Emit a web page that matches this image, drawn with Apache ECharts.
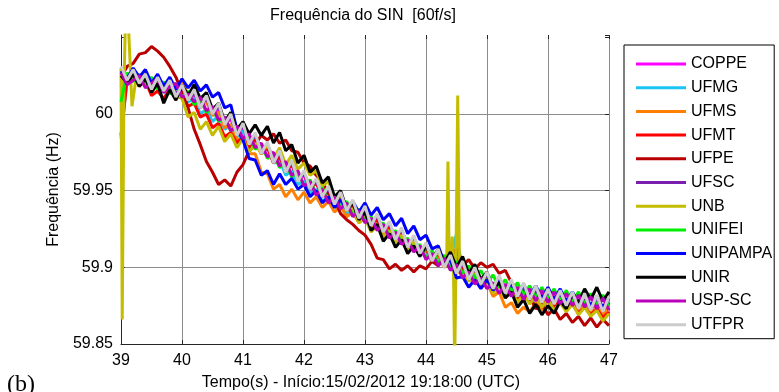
<!DOCTYPE html>
<html><head><meta charset="utf-8">
<script src="https://cdn.jsdelivr.net/npm/echarts@6/dist/echarts.min.js"></script>
<style>html,body{margin:0;padding:0;background:#fff}#c{width:779px;height:392px}</style>
</head><body><div id="c"></div>
<script>
// shared sample times (s)
const time = [39.0,39.1,39.2,39.3,39.4,39.5,39.6,39.7,39.8,39.9,
40.0,40.1,40.2,40.3,40.4,40.5,40.6,40.7,40.8,40.9,
41.0,41.1,41.2,41.3,41.4,41.5,41.6,41.7,41.8,41.9,
42.0,42.1,42.2,42.3,42.4,42.5,42.6,42.7,42.8,42.9,
43.0,43.1,43.2,43.3,43.4,43.5,43.6,43.7,43.8,43.9,
44.0,44.1,44.2,44.3,44.4,44.5,44.6,44.7,44.8,44.9,
45.0,45.1,45.2,45.3,45.4,45.5,45.6,45.7,45.8,45.9,
46.0,46.1,46.2,46.3,46.4,46.5,46.6,46.7,46.8,46.9,47.0];

const names = ['COPPE','UFMG','UFMS','UFMT','UFPE','UFSC','UNB','UNIFEI','UNIPAMPA','UNIR','USP-SC','UTFPR'];
const colors = ['#ff00ff','#1cc4f4','#ff8000','#ff0000','#b80000','#7a1fb0','#c4bc00','#00ee00','#0000ff','#000000','#bb00bb','#cccccc'];

const coppe = [60.026,60.021,60.027,60.019,60.024,60.017,60.022,60.014,60.020,60.012,
60.017,60.008,60.013,60.004,60.009,59.999,60.003,59.993,59.997,59.986,
59.991,59.980,59.985,59.974,59.979,59.968,59.973,59.962,59.967,59.957,
59.960,59.951,59.955,59.946,59.950,59.942,59.946,59.938,59.941,59.933,
59.937,59.928,59.932,59.924,59.927,59.919,59.923,59.914,59.918,59.910,
59.913,59.905,59.909,59.901,59.905,59.897,59.901,59.893,59.897,59.890,
59.894,59.887,59.891,59.884,59.888,59.881,59.885,59.879,59.883,59.877,
59.881,59.876,59.880,59.875,59.879,59.873,59.878,59.872,59.877,59.871,59.876];

const ufmg = [59.984,60.024,60.027,60.021,60.024,60.017,60.021,60.014,60.019,60.012,
60.016,60.008,60.010,60.000,60.003,59.995,59.999,59.990,59.993,59.985,
59.989,59.980,59.985,59.975,59.979,59.968,59.970,59.960,59.963,59.954,
59.956,59.948,59.951,59.943,59.946,59.939,59.942,59.935,59.938,59.931,
59.934,59.926,59.929,59.922,59.925,59.917,59.921,59.912,59.916,59.908,
59.911,59.903,59.907,59.900,59.905,59.922,59.897,59.891,59.895,59.888,
59.892,59.885,59.890,59.882,59.887,59.879,59.885,59.877,59.886,59.876,
59.883,59.875,59.882,59.874,59.881,59.872,59.879,59.871,59.878,59.870,59.877];

const ufms = [60.028,60.024,60.029,60.022,60.027,60.020,60.025,60.018,60.023,60.017,
60.022,60.012,60.015,60.005,60.008,59.999,60.001,59.991,59.993,59.983,
59.985,59.974,59.974,59.962,59.961,59.951,59.954,59.946,59.951,59.944,
59.949,59.942,59.946,59.939,59.943,59.936,59.940,59.933,59.936,59.929,
59.933,59.925,59.929,59.922,59.925,59.918,59.922,59.913,59.917,59.909,
59.912,59.904,59.908,59.900,59.904,59.896,59.900,59.891,59.895,59.887,
59.890,59.881,59.884,59.874,59.877,59.870,59.874,59.871,59.877,59.872,
59.879,59.873,59.880,59.873,59.879,59.872,59.878,59.871,59.877,59.869,59.875];

const ufmt = [59.986,60.022,60.026,60.018,60.022,60.012,60.015,60.010,60.016,60.010,
60.014,60.005,60.007,59.998,60.000,59.991,59.994,59.985,59.988,59.981,
59.985,59.978,59.983,59.974,59.978,59.968,59.972,59.963,59.967,59.958,
59.961,59.952,59.955,59.947,59.950,59.942,59.945,59.938,59.940,59.933,
59.936,59.928,59.931,59.924,59.926,59.919,59.922,59.914,59.917,59.910,
59.912,59.905,59.909,59.902,59.906,59.912,59.899,59.893,59.897,59.890,
59.894,59.887,59.890,59.884,59.887,59.880,59.884,59.878,59.882,59.876,
59.880,59.874,59.878,59.872,59.876,59.870,59.874,59.869,59.873,59.867,59.871];

const ufpe = [60.024,60.031,60.033,60.039,60.040,60.044,60.041,60.037,60.031,60.024,
60.014,60.004,59.990,59.980,59.969,59.962,59.954,59.957,59.953,59.962,
59.967,59.976,59.980,59.986,59.983,59.987,59.981,59.983,59.976,59.975,
59.968,59.966,59.960,59.956,59.948,59.944,59.935,59.931,59.928,59.924,
59.921,59.915,59.906,59.905,59.899,59.902,59.898,59.901,59.897,59.901,
59.899,59.904,59.901,59.906,59.903,59.906,59.901,59.905,59.899,59.903,
59.900,59.902,59.896,59.898,59.890,59.886,59.879,59.881,59.873,59.876,
59.869,59.873,59.866,59.870,59.864,59.868,59.862,59.867,59.861,59.866,59.862];

const ufsc = [60.029,60.023,60.028,60.020,60.025,60.018,60.023,60.016,60.021,60.013,
60.018,60.010,60.014,60.006,60.010,60.001,60.005,59.995,59.998,59.988,
59.992,59.982,59.986,59.976,59.980,59.970,59.974,59.964,59.968,59.958,
59.961,59.953,59.956,59.948,59.951,59.943,59.947,59.939,59.942,59.934,
59.938,59.929,59.933,59.925,59.928,59.920,59.924,59.915,59.919,59.911,
59.914,59.906,59.910,59.902,59.906,59.898,59.902,59.894,59.898,59.891,
59.895,59.888,59.892,59.885,59.889,59.882,59.886,59.880,59.884,59.878,
59.882,59.877,59.881,59.876,59.880,59.874,59.879,59.873,59.878,59.872,59.877];

// UNB has its own, denser sampling around its spikes
const unbTime = [39.0,39.02,39.05,39.08,39.12,39.18,39.25,39.3,39.4,39.5,39.6,39.7,39.8,39.9,
40.0,40.1,40.2,40.3,40.4,40.5,40.6,40.7,40.8,40.9,
41.0,41.1,41.2,41.3,41.4,41.5,41.6,41.7,41.8,41.9,
42.0,42.1,42.2,42.3,42.4,42.5,42.6,42.7,42.8,42.9,
43.0,43.1,43.2,43.3,43.4,43.5,43.6,43.7,43.8,43.9,
44.0,44.1,44.2,44.3,44.34,44.36,44.38,44.41,44.43,44.45,44.47,44.49,44.52,44.55,44.6,44.7,44.8,44.9,
45.0,45.1,45.2,45.3,45.4,45.5,45.6,45.7,45.8,45.9,
46.0,46.1,46.2,46.3,46.4,46.5,46.6,46.7,46.8,46.9,47.0];
const unb = [60.030,59.866,60.020,60.075,60.060,60.005,60.024,60.020,60.026,60.018,60.023,60.015,60.020,60.012,
60.010,59.998,60.001,59.990,59.995,59.986,59.992,59.982,59.987,59.978,
59.984,59.975,59.981,59.974,59.980,59.971,59.978,59.967,59.973,59.964,
59.968,59.960,59.963,59.953,59.956,59.945,59.948,59.937,59.938,59.929,
59.932,59.923,59.927,59.920,59.924,59.916,59.921,59.912,59.917,59.909,
59.913,59.905,59.910,59.902,59.906,59.969,59.904,59.899,59.920,59.900,59.835,59.900,60.012,59.897,59.894,59.891,59.896,59.887,
59.892,59.883,59.888,59.880,59.886,59.877,59.883,59.876,59.881,59.874,
59.879,59.872,59.877,59.871,59.876,59.869,59.874,59.868,59.872,59.865,59.870];

const unifei = [60.008,60.027,60.021,60.026,60.019,60.024,60.016,60.021,60.013,60.018,
60.011,60.015,60.006,60.010,60.001,60.004,59.995,59.998,59.989,59.992,
59.983,59.986,59.977,59.980,59.971,59.974,59.965,59.968,59.959,59.962,
59.953,59.957,59.948,59.952,59.943,59.947,59.939,59.943,59.934,59.938,
59.930,59.933,59.925,59.929,59.920,59.924,59.916,59.919,59.911,59.915,
59.906,59.911,59.903,59.908,59.900,59.904,59.896,59.901,59.893,59.898,
59.890,59.895,59.887,59.892,59.884,59.890,59.882,59.888,59.880,59.887,
59.879,59.886,59.878,59.885,59.877,59.884,59.876,59.883,59.875,59.882,59.874];

const unipampa = [60.028,60.023,60.030,60.024,60.029,60.020,60.026,60.018,60.024,60.016,
60.023,60.017,60.022,60.015,60.019,60.011,60.014,60.004,60.006,59.990,
59.983,59.971,59.970,59.960,59.963,59.954,59.961,59.954,59.958,59.951,
59.954,59.946,59.950,59.942,59.946,59.939,59.944,59.938,59.943,59.936,
59.942,59.934,59.939,59.931,59.935,59.927,59.932,59.922,59.927,59.918,
59.921,59.912,59.914,59.903,59.905,59.893,59.894,59.887,59.892,59.886,
59.892,59.885,59.891,59.884,59.890,59.882,59.889,59.881,59.888,59.880,
59.887,59.879,59.886,59.878,59.884,59.877,59.883,59.875,59.881,59.874,59.880];

const unir = [60.025,60.020,60.026,60.018,60.023,60.014,60.020,60.007,60.016,60.009,
60.019,60.012,60.019,60.010,60.014,60.003,60.007,59.995,60.001,59.990,
59.995,59.987,59.993,59.986,59.992,59.981,59.988,59.976,59.980,59.968,
59.973,59.962,59.966,59.955,59.959,59.946,59.950,59.938,59.942,59.931,
59.936,59.924,59.928,59.917,59.922,59.913,59.918,59.909,59.914,59.907,
59.914,59.905,59.912,59.903,59.910,59.900,59.907,59.896,59.902,59.892,
59.897,59.886,59.890,59.880,59.884,59.874,59.879,59.870,59.876,59.869,
59.875,59.870,59.878,59.873,59.883,59.877,59.886,59.879,59.887,59.878,59.884];

const uspsc = [60.027,60.019,60.022,60.025,60.017,60.020,60.023,60.014,60.018,60.020,
60.011,60.013,60.008,60.011,60.002,60.005,59.996,59.998,59.989,59.992,
59.984,59.987,59.978,59.981,59.972,59.975,59.966,59.969,59.960,59.963,
59.953,59.956,59.947,59.951,59.942,59.946,59.938,59.942,59.933,59.937,
59.929,59.932,59.924,59.928,59.919,59.923,59.915,59.918,59.910,59.914,
59.905,59.909,59.901,59.906,59.898,59.902,59.893,59.897,59.889,59.893,
59.886,59.890,59.883,59.889,59.881,59.887,59.879,59.886,59.878,59.885,
59.877,59.884,59.876,59.883,59.875,59.882,59.874,59.881,59.873,59.880,59.872];

const utfpr = [60.031,60.022,60.029,60.020,60.026,60.016,60.024,60.015,60.022,60.011,
60.019,60.009,60.016,60.004,60.012,60.000,60.007,59.993,60.000,59.986,
59.994,59.980,59.988,59.974,59.982,59.968,59.976,59.962,59.970,59.956,
59.963,59.951,59.958,59.946,59.953,59.941,59.949,59.937,59.944,59.932,
59.940,59.927,59.935,59.923,59.930,59.918,59.926,59.913,59.921,59.909,
59.916,59.904,59.912,59.900,59.908,59.896,59.904,59.892,59.900,59.889,
59.897,59.886,59.895,59.883,59.892,59.881,59.890,59.879,59.888,59.877,
59.886,59.876,59.885,59.875,59.884,59.873,59.883,59.872,59.882,59.871,59.881];

const seriesValues = [coppe, ufmg, ufms, ufmt, ufpe, ufsc, unb, unifei, unipampa, unir, uspsc, utfpr];
const seriesTimes  = [time, time, time, time, time, time, unbTime, time, time, time, time, time];

const xTicks = {min: 39, max: 47, step: 1};
const yTicks = {min: 59.85, max: 60.0515, step: 0.05, lastLabel: 60};

const FONT = 'Liberation Sans';
const chart = echarts.init(document.getElementById('c'), null, {renderer: 'canvas'});

const series = names.map((n, i) => ({
  name: n,
  type: 'line',
  data: seriesTimes[i].map((t, k) => [t, seriesValues[i][k]]),
  showSymbol: false,
  symbol: 'none',
  clip: true,
  lineStyle: {color: colors[i], width: 3},
  itemStyle: {color: colors[i]},
  emphasis: {disabled: true},
  z: 2
}));

const G = '#8c8c8c', T = 'rgba(0,0,0,0)';

chart.setOption({
  animation: false,
  backgroundColor: '#ffffff',
  textStyle: {fontFamily: FONT},
  grid: {left: 121, right: 170, top: 35, bottom: 48},
  legend: {
    data: names.map(n => ({name: n, icon: 'rect'})),
    orient: 'vertical',
    left: 624, top: 45,
    itemWidth: 50, itemHeight: 3,
    itemGap: 7.7,
    padding: [11, 2, 6, 12],
    borderColor: '#000', borderWidth: 1,
    backgroundColor: '#fff',
    selectedMode: false,
    textStyle: {fontFamily: FONT, fontSize: 16, color: '#000'}
  },
  xAxis: [{
    type: 'value', min: xTicks.min, max: xTicks.max, interval: xTicks.step,
    axisLine: {show: true, onZero: false, lineStyle: {color: '#262626', width: 1}},
    axisTick: {show: true, inside: true, length: 4, lineStyle: {color: '#262626'}},
    axisLabel: {fontFamily: FONT, fontSize: 16, color: '#000', margin: 9},
    splitLine: {show: true, lineStyle: {color: G, width: 1}}
  }, {
    type: 'value', position: 'top', min: xTicks.min, max: xTicks.max, interval: xTicks.step,
    axisLine: {show: false},
    axisTick: {show: true, inside: true, length: 4, lineStyle: {color: '#262626'}},
    axisLabel: {show: false}, splitLine: {show: false}
  }],
  yAxis: [{
    type: 'value', min: yTicks.min, max: yTicks.max, interval: yTicks.step,
    name: 'Frequência (Hz)', nameLocation: 'middle', nameGap: 58,
    nameTextStyle: {fontFamily: FONT, fontSize: 16, color: '#000'},
    axisLine: {show: true, onZero: false, lineStyle: {color: '#262626', width: 1}},
    axisTick: {show: true, inside: true, length: 4, lineStyle: {color: '#262626'}},
    axisLabel: {fontFamily: FONT, fontSize: 16, color: '#000', margin: 8, showMaxLabel: false,
      formatter: v => (v > yTicks.lastLabel + 0.001 ? '' : String(+v.toFixed(2)))},
    splitLine: {show: true, lineStyle: {color: [G, G, G, G, T, T], width: 1}}
  }, {
    type: 'value', position: 'right', min: yTicks.min, max: yTicks.max, interval: yTicks.step,
    axisLine: {show: false},
    axisTick: {show: true, inside: true, length: 4, lineStyle: {color: '#262626'}},
    axisLabel: {show: false}, splitLine: {show: false}
  }],
  graphic: [
    {type: 'text', x: 363, y: 16, style: {text: 'Frequência do SIN  [60f/s]', fontFamily: FONT, fontSize: 16, fill: '#000', align: 'center', verticalAlign: 'middle'}},
    {type: 'text', x: 361, y: 383, style: {text: 'Tempo(s) - Início:15/02/2012 19:18:00 (UTC)', fontFamily: FONT, fontSize: 16, fill: '#000', align: 'center', verticalAlign: 'middle'}},
    {type: 'text', x: 7, y: 385, style: {text: '(b)', fontFamily: 'Liberation Serif', fontSize: 24, fill: '#000', align: 'left', verticalAlign: 'middle'}}
  ],
  series: series
});
</script>
</body></html>
